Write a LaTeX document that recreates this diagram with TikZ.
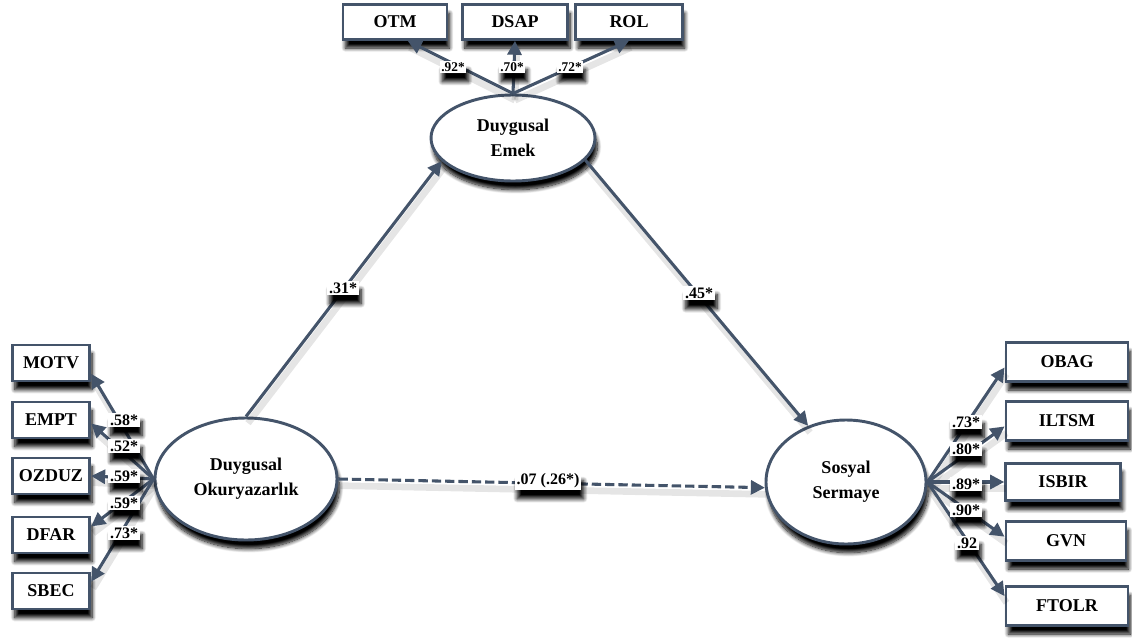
\documentclass[tikz,border=0pt]{standalone}
\usepackage{fontspec}
\setmainfont{Liberation Serif}
\usetikzlibrary{arrows.meta,shapes.geometric,shadows.blur}
\definecolor{slate}{HTML}{44546A}
\tikzset{
  shade/.style={blur shadow={shadow xshift=1.8pt,shadow yshift=-6.5pt,
      shadow blur radius=3pt,shadow blur steps=10,shadow opacity=100}},
  obs/.style={draw=slate,line width=2.2pt,fill=white,shade,inner sep=0pt,
      font=\bfseries\fontsize{13.5}{14}\selectfont},
  lat/.style={ellipse,draw=slate,line width=2.2pt,fill=white,shade,inner sep=0pt,
      align=center,font=\bfseries\fontsize{13.5}{18.75}\selectfont},
  coef/.style={fill=white,inner sep=1.4pt,shade,
      font=\bfseries\fontsize{12}{12}\selectfont},
  coefsmall/.style={coef,inner sep=1.1pt,font=\bfseries\fontsize{10}{10}\selectfont},
  link/.style={draw=slate,line width=2.3pt,-{Triangle[length=10.5pt,width=10.5pt]},
      preaction={draw=black,opacity=.1,line width=5pt,-,
        transform canvas={shift={(1.5pt,-5pt)}}}},
}
\begin{document}
\begin{tikzpicture}[x=0.75pt,y=-0.75pt]
\useasboundingbox (0,0) rectangle (1132,639);

% latent constructs
\node[lat,minimum width=123pt,minimum height=64.5pt] (emek) at (513,138) {Duygusal\\Emek};
\node[lat,minimum width=136.5pt,minimum height=91.5pt] (ok) at (246,479) {Duygusal\\Okuryazarlık};
\node[lat,minimum width=120pt,minimum height=93pt] (ss) at (846,482) {Sosyal\\Sermaye};

% indicators of Duygusal Emek
\node[obs,minimum width=78pt,minimum height=26pt] (otm) at (395,22) {OTM};
\node[obs,minimum width=79pt,minimum height=26pt] (dsap) at (515,22) {DSAP};
\node[obs,minimum width=80pt,minimum height=26pt] (rol) at (629,22) {ROL};

% indicators of Duygusal Okuryazarlik
\node[obs,minimum width=58pt,minimum height=27pt] (motv) at (51,363) {MOTV};
\node[obs,minimum width=58pt,minimum height=27pt] (empt) at (51,420) {EMPT};
\node[obs,minimum width=58pt,minimum height=27pt] (ozduz) at (51,476) {OZDUZ};
\node[obs,minimum width=58pt,minimum height=27pt] (dfar) at (51,535) {DFAR};
\node[obs,minimum width=58pt,minimum height=27pt] (sbec) at (51,591) {SBEC};

% indicators of Sosyal Sermaye
\node[obs,minimum width=91.5pt,minimum height=29pt] (obag) at (1067,362) {OBAG};
\node[obs,minimum width=91.5pt,minimum height=29pt] (iltsm) at (1067,421) {ILTSM};
\node[obs,minimum width=86pt,minimum height=28pt] (isbir) at (1063,482) {ISBIR};
\node[obs,minimum width=90pt,minimum height=29pt] (gvn) at (1066,541) {GVN};
\node[obs,minimum width=91.5pt,minimum height=29pt] (ftolr) at (1067,606) {FTOLR};

% measurement paths
\draw[link] (emek.north) -- (otm.-56);
\draw[link] (emek.north) -- (dsap.south);
\draw[link] (emek.north) -- (rol.south);

\draw[link] (ok.west) -- (motv.-15);
\draw[link] (ok.west) -- (empt.-5);
\draw[link] (ok.west) -- (ozduz.east);
\draw[link] (ok.west) -- (dfar.12);
\draw[link] (ok.west) -- (sbec.13);

\draw[link] (ss.east) -- (obag.185);
\draw[link] (ss.east) -- (iltsm.185);
\draw[link] (ss.east) -- (isbir.west);
\draw[link] (ss.east) -- (gvn.176);
\draw[link] (ss.east) -- (ftolr.171);

% structural paths
\draw[link] (ok.north) -- (emek.198);
\draw[link] (emek.-17) -- (ss.124);
\draw[link,dash pattern=on 7pt off 3pt] (ok.east) -- (ss.184);

% coefficients
\node[coefsmall] (c1) at (453,67) {.92*};
\node[coefsmall] (c2) at (512,67) {.70*};
\node[coefsmall] (c3) at (570,67) {.72*};

\node[coef] (l1) at (124,420) {.58*};
\node[coef] (l2) at (124,446) {.52*};
\node[coef] (l3) at (124,476) {.59*};
\node[coef] (l4) at (124,503) {.59*};
\node[coef] (l5) at (124,533) {.73*};

\node[coef] (r1) at (966,422) {.73*};
\node[coef] (r2) at (966,449) {.80*};
\node[coef] (r3) at (966,484) {.89*};
\node[coef] (r4) at (966,510) {.90*};
\node[coef] (r5) at (967,543) {.92};

\node[coef] (p1) at (343,288) {.31*};
\node[coef] (p2) at (699,293) {.45*};
\node[coef] (p3) at (548,481) {.07 (.26*)};
\end{tikzpicture}
\end{document}
